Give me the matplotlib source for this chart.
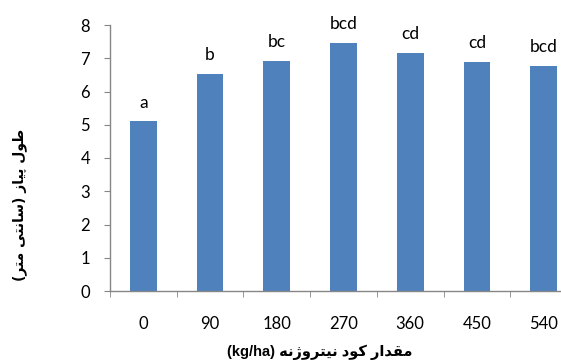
import matplotlib.pyplot as plt

# nitrogen fertilizer rate (kg/ha) and onion length (cm)
doses = ["0", "90", "180", "270", "360", "450", "540"]
lengths = [5.10, 6.53, 6.93, 7.47, 7.16, 6.90, 6.78]
groups = ["a", "b", "bc", "bcd", "cd", "cd", "bcd"]
yticks = [0, 1, 2, 3, 4, 5, 6, 7, 8]

# persian labels written in visual order with presentation forms
ylab = ("(\uFEAE\uFE98\uFEE3 \uFEF0\uFE98\uFEE7\uFE8E\uFEB3) "
        "\uFEAF\uFE8E\uFEF4\uFB58 \uFEDD\uFEEE\uFEC3")
xlab = ("(kg/ha) \uFEEA\uFEE7\uFB8A\uFEED\uFEAE\uFE98\uFEF4\uFEE7 "
        "\uFEA9\uFEEE\uFB90 \uFEAD\uFE8D\uFEAA\uFED8\uFEE3")

W, H = 561, 363
fig = plt.figure(figsize=(W / 100, H / 100), dpi=100)
ax = fig.add_axes([110 / W, 1 - 291 / H, (577 - 110) / W, (291 - 25) / H])

gray = "#868686"
pos = list(range(len(doses)))
ax.bar(pos, lengths, width=0.4, color="#4F81BD", zorder=2)

for x, v, g in zip(pos, lengths, groups):
    ax.annotate(g, (x, v), xytext=(0, 10), textcoords="offset points",
                ha="center", va="baseline", fontsize=12.5, family="Lato")

ax.set_xlim(-0.5, len(doses) - 0.5)
ax.set_ylim(0, 8)
ax.set_yticks(yticks)
ax.set_xticks(pos)
ax.set_xticklabels(doses)
ax.set_xticks([p - 0.5 for p in pos] + [len(doses) - 0.5], minor=True)

for s in ["top", "right"]:
    ax.spines[s].set_visible(False)
for s in ["left", "bottom"]:
    ax.spines[s].set_color(gray)
    ax.spines[s].set_linewidth(1)

ax.tick_params(axis="y", length=4.3, color=gray, pad=10, labelsize=12)
ax.tick_params(axis="x", which="major", length=0, pad=18, labelsize=12)
ax.tick_params(axis="x", which="minor", length=4.3, color=gray)
for lab in ax.get_xticklabels() + ax.get_yticklabels():
    lab.set_family("Lato")

fig.text(20 / W, 1 - 205 / H, ylab, rotation=90, ha="center", va="center",
         fontsize=10, fontweight="bold", family=["DejaVu Sans"])
fig.text(320 / W, 1 - 352 / H, xlab, ha="center", va="center",
         fontsize=10.5, fontweight="bold", family=["Liberation Sans", "DejaVu Sans"])

fig.savefig("out.png", dpi=100)
